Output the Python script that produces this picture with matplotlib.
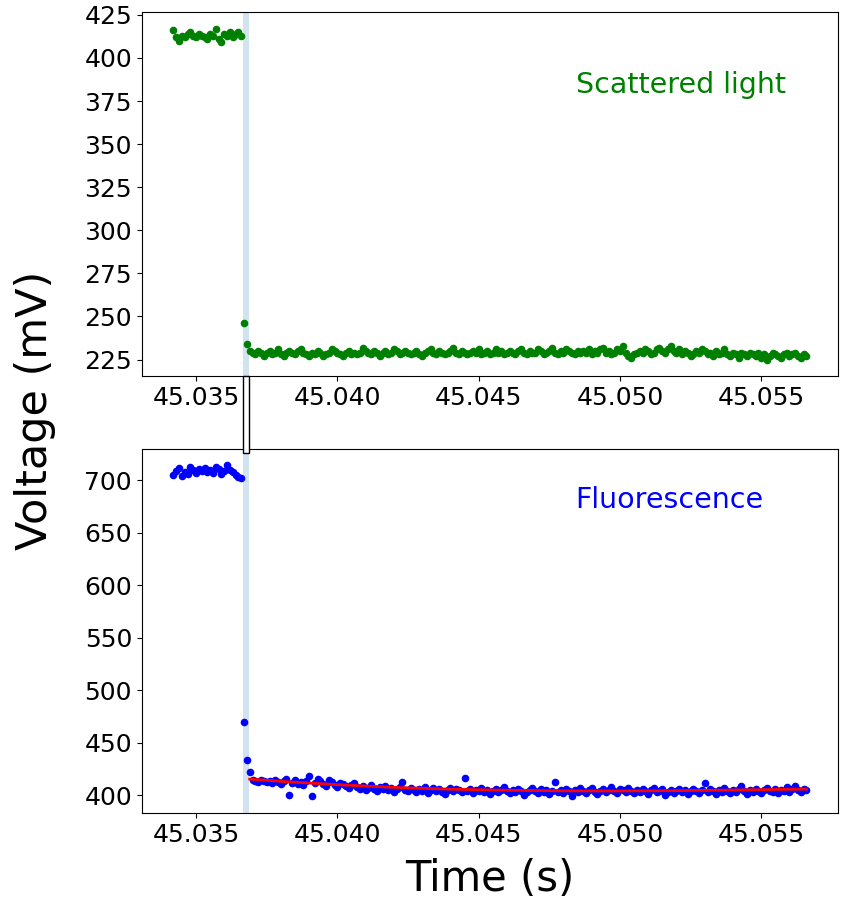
import matplotlib
matplotlib.use('Agg')
import matplotlib.pyplot as plt
import matplotlib.patches as patches
import matplotlib.transforms as transforms
import numpy as np

# sampling of the trace (s)
t_start = 45.0342
dt = 0.0001

# scattered light (mV)
scat_pre = [416, 412, 410, 413, 412, 414, 415, 413, 412, 414, 413, 412, 411, 414, 413,
            417, 411, 409, 414, 413, 415, 412, 414, 415, 413]
scat_post = [246, 234,
             230, 229, 228, 230, 229, 227, 229, 230, 228, 229, 231, 228, 227, 229, 230, 229, 228, 230,
             231, 229, 228, 227, 229, 228, 230, 229, 227, 228, 229, 231, 230, 229, 228, 227, 229, 230, 228, 229,
             228, 229, 232, 230, 229, 228, 230, 229, 227, 229, 230, 228, 229, 231, 230, 228, 229, 230, 229, 228,
             229, 230, 228, 227, 229, 230, 231, 229, 228, 230, 229, 228, 229, 230, 232, 229, 228, 230, 229, 228,
             229, 230, 229, 231, 228, 229, 230, 228, 229, 231, 229, 230, 228, 229, 230, 229, 228, 230, 231, 229,
             228, 230, 229, 229, 231, 230, 228, 229, 230, 232, 229, 228, 230, 229, 231, 230, 229, 228, 230, 229,
             230, 229, 231, 228, 230, 229, 231, 232, 229, 230, 228, 229, 231, 230, 233, 229, 227, 226, 228, 229,
             230, 229, 231, 230, 228, 229, 231, 232, 230, 229, 231, 233, 230, 229, 231, 228, 230, 229, 227, 228,
             230, 229, 231, 230, 228, 229, 227, 230, 228, 229, 231, 228, 227, 229, 228, 226, 229, 228, 227, 229,
             228, 227, 229, 226, 228, 225, 227, 229, 228, 227, 226, 228, 229, 227, 228, 229, 227, 226, 228, 227]

# fluorescence (mV)
fluo_pre = [705, 709, 712, 704, 708, 706, 713, 710, 707, 711, 709, 712, 708, 710, 707,
            713, 711, 706, 709, 714, 710, 708, 705, 703, 702]
fluo_post = [470, 434, 422,
             415, 414, 413, 415, 414, 413, 414, 412, 415, 413, 411, 414, 416, 400, 412, 415, 411,
             413, 410, 414, 418, 399, 412, 416, 414, 411, 409, 415, 413, 410, 408, 412, 411, 409, 407, 410, 412,
             408, 406, 409, 405, 407, 410, 406, 404, 408, 406, 409, 405, 407, 403, 406, 408, 413, 405, 404, 407,
             405, 403, 406, 404, 408, 402, 405, 407, 404, 406, 403, 401, 405, 407, 404, 406, 405, 403, 417, 404,
             406, 402, 405, 404, 407, 403, 405, 401, 404, 406, 403, 405, 408, 404, 402, 405, 403, 406, 404, 400,
             403, 405, 407, 404, 402, 406, 403, 405, 401, 404, 413, 403, 405, 402, 406, 404, 399, 405, 403, 407,
             404, 402, 405, 407, 403, 401, 404, 406, 403, 405, 408, 404, 402, 406, 405, 403, 407, 404, 402, 405,
             403, 406, 404, 401, 405, 407, 403, 404, 406, 400, 403, 405, 402, 404, 406, 403, 405, 401, 404, 406,
             404, 402, 405, 412, 403, 406, 404, 401, 405, 403, 407, 404, 402, 405, 403, 406, 409, 404, 401, 405,
             403, 406, 404, 402, 405, 407, 404, 403, 406, 402, 405, 404, 408, 403, 406, 409, 405, 403, 406, 405]

# fitted decay on the fluorescence
fit_t = [45.0369, 45.0385, 45.0400, 45.0420, 45.0440, 45.0460, 45.0480, 45.0500, 45.0520, 45.0540, 45.0566]
fit_v = [415.5, 412.5, 410.2, 407.6, 405.9, 404.9, 404.3, 404.2, 404.5, 405.1, 406.0]

# shaded interval (s)
span_lo = 45.03665
span_hi = 45.03688

scat = scat_pre + scat_post
fluo = fluo_pre + fluo_post
t = t_start + dt * np.arange(len(scat))

fig = plt.figure(figsize=(8.44, 9.02), dpi=100)
ax1 = fig.add_axes([0.168, 0.583, 0.825, 0.4036])
ax2 = fig.add_axes([0.168, 0.0987, 0.825, 0.4036], sharex=ax1)

ax1.scatter(t, scat, s=20, color='green', zorder=3)
ax1.axvspan(span_lo, span_hi, color='C0', alpha=0.2, lw=0)
ax1.text(0.775, 0.80, 'Scattered light', color='green', fontsize=20.5,
         transform=ax1.transAxes, ha='center', va='center')

ax2.scatter(t, fluo, s=20, color='blue', zorder=3)
ax2.plot(fit_t, fit_v, color='red', lw=2, zorder=4)
ax2.axvspan(span_lo, span_hi, color='C0', alpha=0.2, lw=0)
ax2.text(0.757, 0.86, 'Fluorescence', color='blue', fontsize=20.5,
         transform=ax2.transAxes, ha='center', va='center')

ax1.set_yticks([225, 250, 275, 300, 325, 350, 375, 400, 425])
ax2.set_yticks([400, 450, 500, 550, 600, 650, 700])
ax1.set_xticks([45.035, 45.040, 45.045, 45.050, 45.055])
ax1.xaxis.set_major_formatter(matplotlib.ticker.FormatStrFormatter('%.3f'))
ax1.tick_params(labelbottom=True)
for ax in (ax1, ax2):
    ax.tick_params(labelsize=18)

# bridge between the two panels marking the shaded interval
trans = transforms.blended_transform_factory(ax1.transData, fig.transFigure)
bridge = patches.Rectangle((span_lo, 0.4977), span_hi - span_lo, 0.583 - 0.4977,
                           transform=trans, facecolor='white', edgecolor='black',
                           lw=1, clip_on=False, zorder=5)
fig.patches.append(bridge)

fig.text(0.58, 0.025, 'Time (s)', fontsize=30, ha='center', va='center')
fig.text(0.042, 0.545, 'Voltage (mV)', fontsize=31, ha='center', va='center', rotation=90)

fig.savefig('out.png', dpi=100)
